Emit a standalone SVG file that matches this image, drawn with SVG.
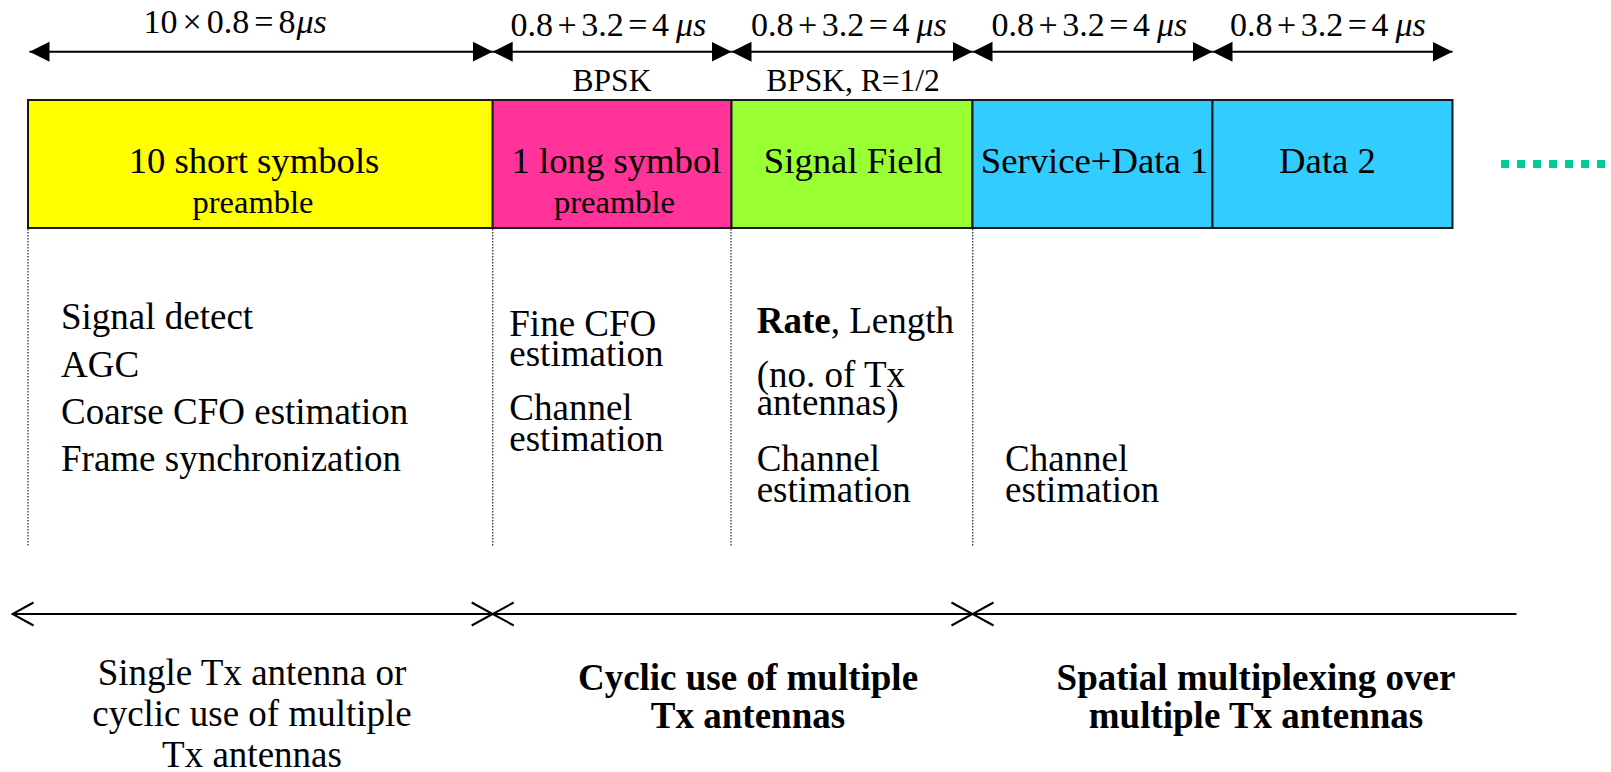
<svg xmlns="http://www.w3.org/2000/svg" width="1611" height="772" viewBox="0 0 1611 772">
  <style>
    text { font-family: "Liberation Serif", "Times New Roman", serif; fill: #000; }
    .lbl { font-size: 36.7px; text-anchor: middle; }
    .sub { font-size: 32.5px; text-anchor: middle; }
    .note { font-size: 37px; }
    .time { font-size: 34px; }
    .mod { font-size: 31.5px; text-anchor: middle; }
    .foot { font-size: 37px; text-anchor: middle; }
    .bold { font-weight: bold; }
    .field { stroke: #1a1a1a; stroke-width: 2; }
    .guide { stroke: #333; stroke-width: 1.3; stroke-dasharray: 1.5 1.5; fill: none; }
    .dim { stroke: #000; stroke-width: 2; fill: none; marker-start: url(#solidHead); marker-end: url(#solidHead); }
    .span { stroke: #000; stroke-width: 2; fill: none; }
  </style>
  <defs>
    <marker id="solidHead" markerUnits="userSpaceOnUse" viewBox="0 -11 22 22" markerWidth="22" markerHeight="22" refX="20" refY="0" orient="auto-start-reverse">
      <path d="M0,-10 L20,0 L0,10 Z" fill="#000"/>
    </marker>
    <marker id="openHead" markerUnits="userSpaceOnUse" viewBox="-1 -13 24 26" markerWidth="24" markerHeight="26" refX="21" refY="0" orient="auto-start-reverse">
      <path d="M0,-11.5 L21,0 L0,11.5" fill="none" stroke="#000" stroke-width="2"/>
    </marker>
  </defs>

  <!-- duration dimension lines, antenna-usage spans and guides -->
  <g id="connectors">
    <line class="dim" x1="29.5" y1="51.7" x2="492.7" y2="51.7"/>
    <line class="dim" x1="492.7" y1="51.7" x2="731.5" y2="51.7"/>
    <line class="dim" x1="731.5" y1="51.7" x2="972.5" y2="51.7"/>
    <line class="dim" x1="972.5" y1="51.7" x2="1212.5" y2="51.7"/>
    <line class="dim" x1="1212.5" y1="51.7" x2="1452.5" y2="51.7"/>

    <line class="span" x1="12.5" y1="614" x2="492.7" y2="614" marker-start="url(#openHead)" marker-end="url(#openHead)"/>
    <line class="span" x1="492.7" y1="614" x2="972.5" y2="614" marker-start="url(#openHead)" marker-end="url(#openHead)"/>
    <line class="span" x1="972.5" y1="614" x2="1516.5" y2="614" marker-start="url(#openHead)"/>

    <line class="guide" x1="28" y1="229" x2="28" y2="547"/>
    <line class="guide" x1="492.7" y1="229" x2="492.7" y2="547"/>
    <line class="guide" x1="731" y1="229" x2="731" y2="547"/>
    <line class="guide" x1="972.7" y1="229" x2="972.7" y2="547"/>

    <!-- continuation -->
    <line x1="1501" y1="164" x2="1611" y2="164" stroke="#00CC99" stroke-width="8" stroke-dasharray="8 8"/>
  </g>

  <g id="timing">
    <text class="time" x="143.5" y="33">10<tspan dx="5">×</tspan><tspan dx="5">0.8</tspan><tspan dx="5">=</tspan><tspan dx="5">8</tspan><tspan dx="1" font-style="italic">μs</tspan></text>
    <text class="time" x="510.5" y="36">0.8<tspan dx="4.5">+</tspan><tspan dx="4.5">3.2</tspan><tspan dx="4.5">=</tspan><tspan dx="4.5">4</tspan><tspan dx="7" font-style="italic">μs</tspan></text>
    <text class="time" x="751" y="36">0.8<tspan dx="4.5">+</tspan><tspan dx="4.5">3.2</tspan><tspan dx="4.5">=</tspan><tspan dx="4.5">4</tspan><tspan dx="7" font-style="italic">μs</tspan></text>
    <text class="time" x="991.5" y="36">0.8<tspan dx="4.5">+</tspan><tspan dx="4.5">3.2</tspan><tspan dx="4.5">=</tspan><tspan dx="4.5">4</tspan><tspan dx="7" font-style="italic">μs</tspan></text>
    <text class="time" x="1230" y="36">0.8<tspan dx="4.5">+</tspan><tspan dx="4.5">3.2</tspan><tspan dx="4.5">=</tspan><tspan dx="4.5">4</tspan><tspan dx="7" font-style="italic">μs</tspan></text>
    <text class="mod" x="612" y="91">BPSK</text>
    <text class="mod" x="853" y="91">BPSK, R=1/2</text>
  </g>

  <!-- packet fields -->
  <g id="short-preamble">
    <rect class="field" x="28" y="100" width="464.7" height="128" fill="#FFFF00"/>
    <text class="lbl" x="254" y="173">10 short symbols</text>
    <text class="sub" x="253" y="213">preamble</text>
  </g>
  <g id="long-preamble">
    <rect class="field" x="492.7" y="100" width="238.8" height="128" fill="#FF3399"/>
    <text class="lbl" x="616.5" y="173">1 long symbol</text>
    <text class="sub" x="614.5" y="213">preamble</text>
  </g>
  <g id="signal-field">
    <rect class="field" x="731.5" y="100" width="241" height="128" fill="#99FF33"/>
    <text class="lbl" x="853" y="173">Signal Field</text>
  </g>
  <g id="data-1">
    <rect class="field" x="972.5" y="100" width="240" height="128" fill="#33CCFF"/>
    <text class="lbl" x="1094.5" y="173">Service+Data 1</text>
  </g>
  <g id="data-2">
    <rect class="field" x="1212.5" y="100" width="240" height="128" fill="#33CCFF"/>
    <text class="lbl" x="1327.5" y="173">Data 2</text>
  </g>

  <!-- receiver tasks per field -->
  <g id="tasks-short">
    <text class="note" x="61" y="329.3">Signal detect</text>
    <text class="note" x="61" y="376.7">AGC</text>
    <text class="note" x="61" y="424">Coarse CFO estimation</text>
    <text class="note" x="61" y="470.7">Frame synchronization</text>
  </g>
  <g id="tasks-long">
    <text class="note" x="509.3" y="336">Fine CFO</text>
    <text class="note" x="509.3" y="366">estimation</text>
    <text class="note" x="509.3" y="420">Channel</text>
    <text class="note" x="509.3" y="450.7">estimation</text>
  </g>
  <g id="tasks-signal">
    <text class="note" x="756.7" y="332.7"><tspan class="bold">Rate</tspan>, Length</text>
    <text class="note" x="756.7" y="386.7">(no. of Tx</text>
    <text class="note" x="756.7" y="415">antennas)</text>
    <text class="note" x="756.7" y="470.7">Channel</text>
    <text class="note" x="756.7" y="501.7">estimation</text>
  </g>
  <g id="tasks-data">
    <text class="note" x="1005" y="470.7">Channel</text>
    <text class="note" x="1005" y="501.7">estimation</text>
  </g>

  <!-- antenna usage descriptions -->
  <g id="usage-single">
    <text class="foot" x="252" y="685">Single Tx antenna or</text>
    <text class="foot" x="252" y="726">cyclic use of multiple</text>
    <text class="foot" x="252" y="767">Tx antennas</text>
  </g>
  <g id="usage-cyclic">
    <text class="foot bold" x="748" y="690">Cyclic use of multiple</text>
    <text class="foot bold" x="748" y="728">Tx antennas</text>
  </g>
  <g id="usage-spatial">
    <text class="foot bold" x="1256" y="690">Spatial multiplexing over</text>
    <text class="foot bold" x="1256" y="728">multiple Tx antennas</text>
  </g>
</svg>
